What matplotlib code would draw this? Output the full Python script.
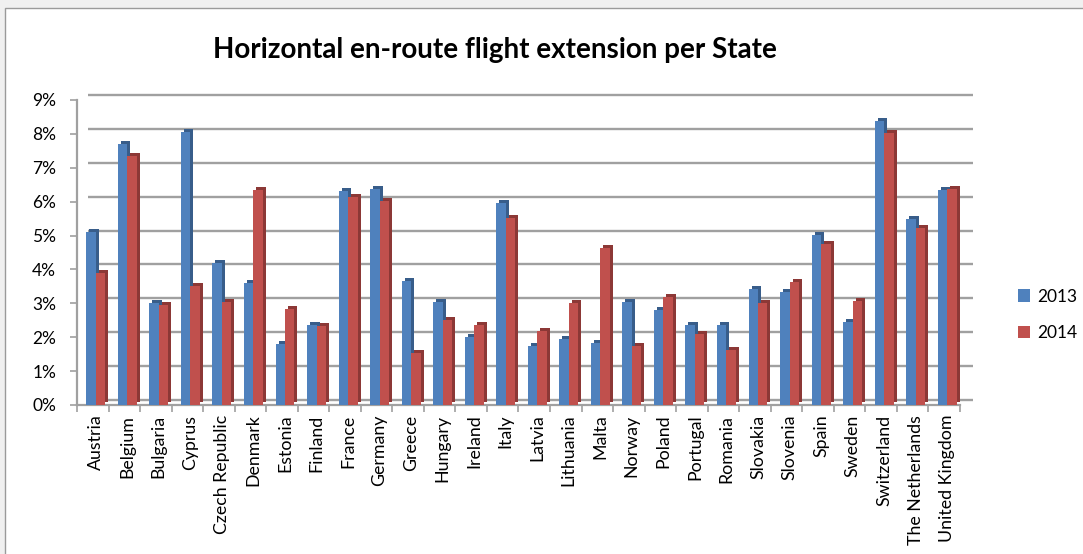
import numpy as np
import matplotlib.pyplot as plt
import matplotlib.transforms as mtrans
from matplotlib.patches import Rectangle

plt.rcParams['font.family'] = ['Lato', 'DejaVu Sans']

states = ['Austria', 'Belgium', 'Bulgaria', 'Cyprus', 'Czech Republic', 'Denmark',
          'Estonia', 'Finland', 'France', 'Germany', 'Greece', 'Hungary', 'Ireland',
          'Italy', 'Latvia', 'Lithuania', 'Malta', 'Norway', 'Poland', 'Portugal',
          'Romania', 'Slovakia', 'Slovenia', 'Spain', 'Sweden', 'Switzerland',
          'The Netherlands', 'United Kingdom']
# extension in %
ext_2013 = [5.1, 7.7, 3.0, 8.06, 4.18, 3.59, 1.79, 2.35, 6.3, 6.37, 3.67, 3.03, 2.0,
            5.97, 1.74, 1.95, 1.82, 3.03, 2.8, 2.37, 2.37, 3.42, 3.32, 5.01, 2.46,
            8.37, 5.5, 6.33]
ext_2014 = [3.9, 7.35, 2.94, 3.5, 3.03, 6.33, 2.82, 2.33, 6.15, 6.01, 1.53, 2.51, 2.35,
            5.53, 2.18, 3.01, 4.63, 1.74, 3.2, 2.08, 1.63, 3.0, 3.62, 4.74, 3.06,
            8.03, 5.23, 6.38]
years = ['2013', '2014']
colors = ['#4F81BD', '#C0504D']
dark = ['#385D8A', '#8C3836']

fig = plt.figure(figsize=(10.83, 5.54), dpi=100)
fig.patch.set_facecolor('#f0f0f0')
bg = Rectangle((5 / 1083, -0.1), 1.1, 1 - 8 / 554 + 0.1, transform=fig.transFigure,
               facecolor='white', edgecolor='#9a9a9a', lw=1, zorder=-5)
fig.patches.append(bg)

ax = fig.add_axes([0.0711, 0.2690, 0.8153, 0.5505])
ax.set_facecolor('none')
x = np.arange(len(states))
w = 0.3

# fake 3d: bars sit a little behind the front edge, back wall further back
mid = mtrans.offset_copy(ax.transData, fig, x=3, y=0, units='dots')
side = mtrans.offset_copy(ax.transData, fig, x=6, y=3, units='dots')
back = mtrans.offset_copy(ax.get_yaxis_transform(), fig, x=6, y=5, units='dots')

ticks = np.arange(0, 10)
ax.hlines(ticks, 0.006, 1.008, transform=back, color='#a0a0a0', lw=1.7,
          clip_on=False, zorder=1)

handles = []
for k, vals in enumerate([ext_2013, ext_2014]):
    pos = x + (k - 0.5) * w
    ax.bar(pos, vals, w, color=dark[k], transform=side, zorder=2 + 2 * k)
    h = ax.bar(pos, vals, w, color=colors[k], transform=mid, zorder=3 + 2 * k,
               label=years[k])
    handles.append(h)

ax.set_xlim(-0.5, len(states) - 0.5)
ax.set_ylim(0, 9)
ax.set_yticks(ticks)
ax.set_yticklabels([f'{t}%' for t in ticks], fontsize=12.5)
ax.set_xticks(x)
ax.set_xticklabels(states, rotation=90, fontsize=12.8)
ax.set_xticks(np.arange(-0.5, len(states)), minor=True)
ax.tick_params(axis='x', which='major', length=0, pad=7)
ax.tick_params(axis='x', which='minor', length=5, color='#a0a0a0', width=1.2)
ax.tick_params(axis='y', length=5, color='#a0a0a0', width=1.2, pad=10)
shift = mtrans.ScaledTranslation(3 / 100, 0, fig.dpi_scale_trans)
for lab in ax.get_xticklabels():
    lab.set_transform(lab.get_transform() + shift)

for s in ['top', 'right']:
    ax.spines[s].set_visible(False)
for s in ['left', 'bottom']:
    ax.spines[s].set_color('#a0a0a0')
    ax.spines[s].set_linewidth(1.6)

ax.set_title('Horizontal en-route flight extension per State', fontsize=20,
             fontweight='bold', x=0.473, y=1.11)

ax.legend(handles=handles, loc='center left', frameon=False, fontsize=12.5,
          bbox_to_anchor=(1002 / 1083, 1 - 315 / 554), bbox_transform=fig.transFigure,
          handlelength=0.7, handleheight=0.7, handletextpad=0.4, labelspacing=1.2)

fig.savefig('out.png', dpi=100, facecolor=fig.get_facecolor())
